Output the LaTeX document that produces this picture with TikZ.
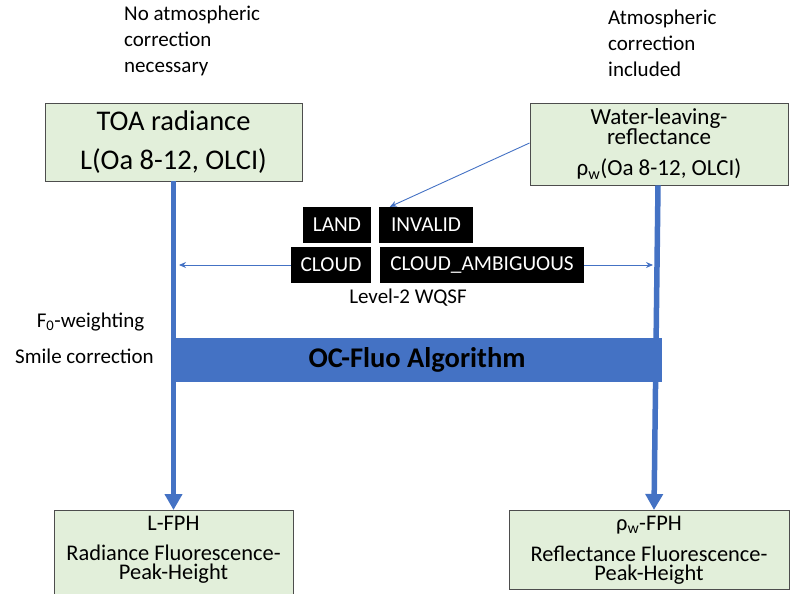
\documentclass[tikz,border=0pt]{standalone}
\usepackage{fontspec}
\setmainfont{Carlito}
\usetikzlibrary{arrows.meta}
\definecolor{boxgreen}{HTML}{E2EFDA}
\definecolor{boxedge}{HTML}{4D4D4D}
\definecolor{flowblue}{HTML}{4472C4}
\begin{document}
\begin{tikzpicture}[x=1pt,y=-1pt,
  databox/.style={draw=boxedge,line width=0.9pt,fill=boxgreen,inner sep=0pt,align=center},
  flagbox/.style={fill=black,text=white,inner sep=0pt,font=\fontsize{21.3}{24}\selectfont},
  note/.style={inner sep=0pt,font=\fontsize{21}{26}\selectfont},
  mainflow/.style={draw=flowblue,line width=5.5pt,-{Triangle[length=16pt,width=17pt]}},
  thinflow/.style={draw=flowblue,line width=0.9pt,-{Stealth[length=7pt,width=6pt]}}]
\useasboundingbox (0,0) rectangle (790,594);
\clip (0,0) rectangle (790,594);

% input products
\node[databox,minimum width=257pt,minimum height=78pt,font=\fontsize{28.5}{39}\selectfont] (toa) at (173.5,142)
  {TOA radiance\\L(Oa 8-12, OLCI)};
\node[databox,minimum width=258pt,minimum height=82pt,font=\fontsize{23}{20}\selectfont] (wlr) at (659,144)
  {Water-leaving-\\reflectance\\[11pt]ρ\textsubscript{w}(Oa 8-12, OLCI)};

% output products
\node[databox,minimum width=239pt,minimum height=86pt,anchor=north,text depth=11.5pt,
  font=\fontsize{22.4}{19}\selectfont] (lfph) at (173.5,510)
  {L-FPH\\[11pt]Radiance Fluorescence-\\Peak-Height};
\node[databox,minimum width=280pt,minimum height=79pt,anchor=north,
  font=\fontsize{22.4}{19}\selectfont] (rfph) at (649,510)
  {ρ\textsubscript{w}-FPH\\[11pt]Reflectance Fluorescence-\\Peak-Height};

% notes
\node[note,anchor=west,align=left] (noac) at (124,41) {No atmospheric\\correction\\necessary};
\node[note,anchor=west,align=left] (inac) at (608,43.5) {Atmospheric\\correction\\included};
\node[note] (fzero) at (90.5,322) {F\textsubscript{0}-weighting};
\node[note] (smile) at (84.5,356) {Smile correction};

% main flow
\draw[mainflow] (toa.south) -- (lfph.north);
\draw[mainflow] ([xshift=-1pt]wlr.south) -- ([xshift=5pt]rfph.north);

% quality flags
\node[flagbox,minimum width=68pt,minimum height=36pt] (land) at (337,225) {LAND};
\node[flagbox,minimum width=94pt,minimum height=36pt] (invalid) at (426,225) {INVALID};
\node[flagbox,minimum width=80pt,minimum height=36pt] (cloud) at (331,265) {CLOUD};
\node[flagbox,minimum width=204pt,minimum height=36pt] (amb) at (482,265) {CLOUD\_AMBIGUOUS};
\node[note] (wqsf) at (408,298) {Level-2 WQSF};

\coordinate (lhit) at (179,265);
\coordinate (rhit) at (653,265);
\draw[thinflow] (cloud.west) -- (lhit);
\draw[thinflow] (amb.east) -- (rhit);
\draw[thinflow] ([yshift=1pt]wlr.west) -- ([xshift=11pt]invalid.north west);

% processor
\node[fill=flowblue,minimum width=490pt,minimum height=44pt,inner sep=0pt,
  font=\fontsize{28.5}{30}\selectfont\bfseries] (algo) at (417,360) {OC-Fluo Algorithm};
\end{tikzpicture}
\end{document}
